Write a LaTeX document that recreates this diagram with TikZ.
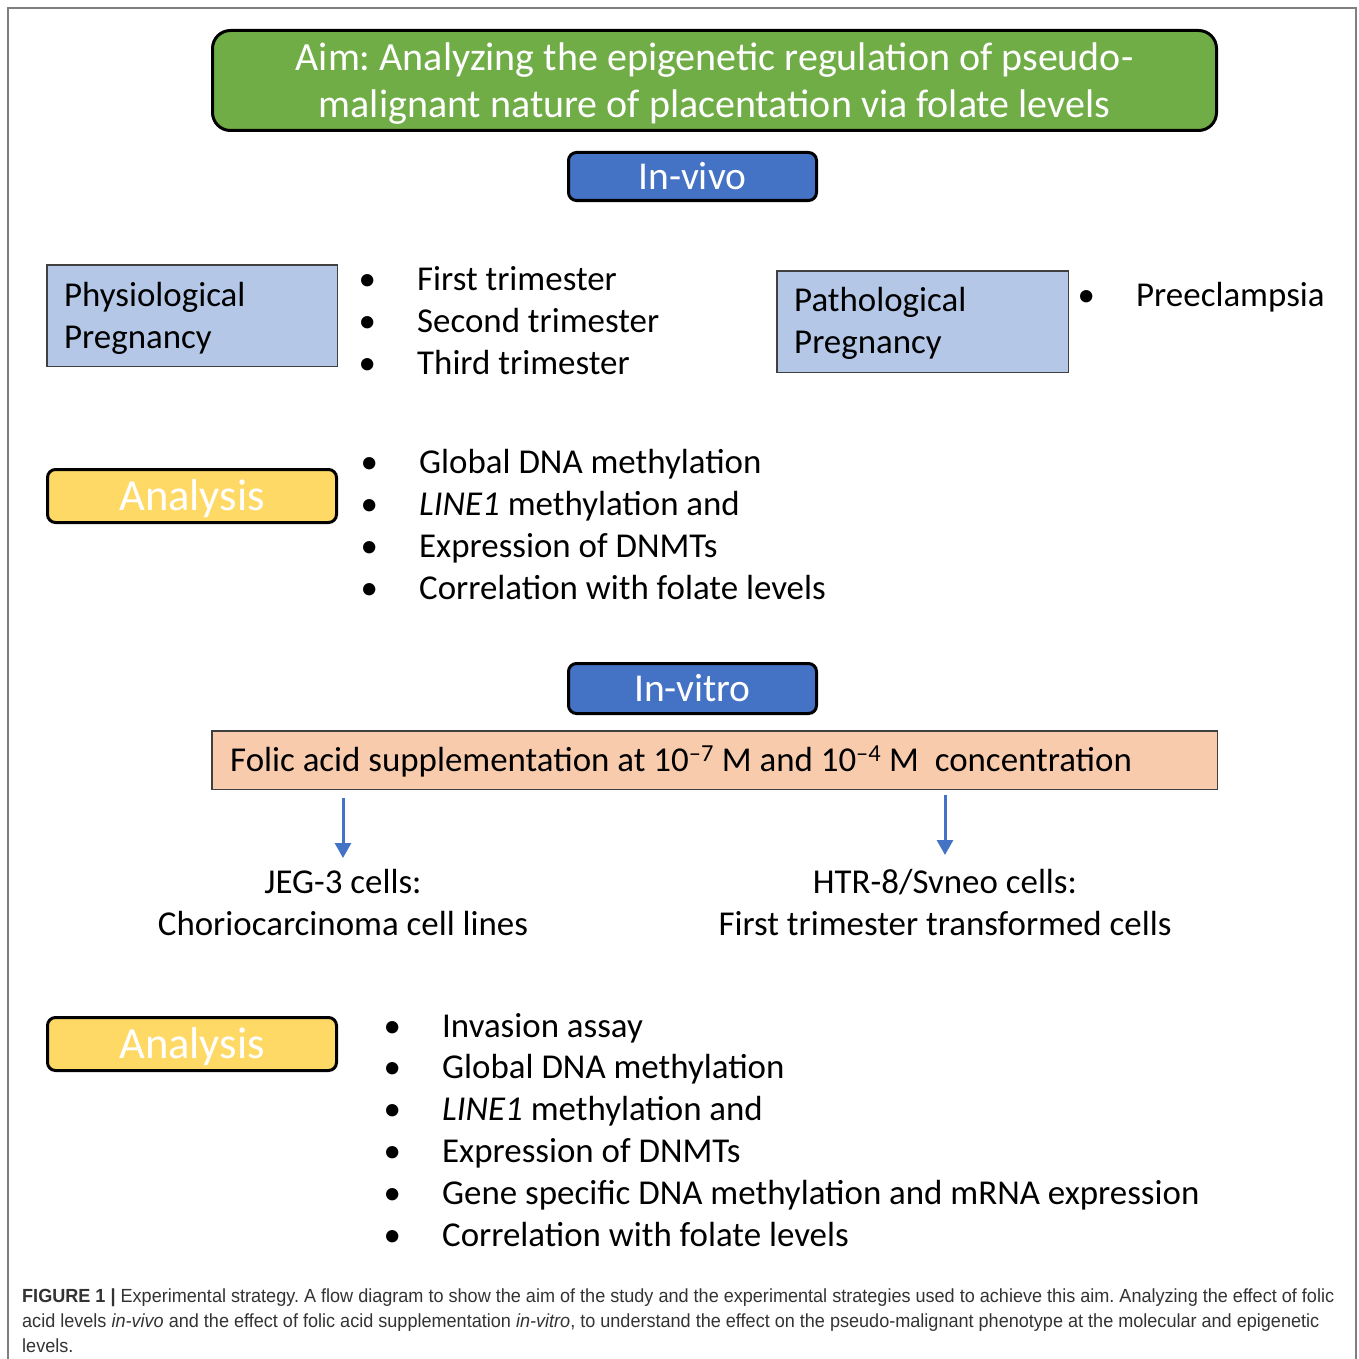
\documentclass[tikz,border=0pt]{standalone}
\usepackage{fontspec}
\setmainfont{Carlito}
\newfontfamily\capfont[FakeStretch=0.951]{Liberation Sans}
\usetikzlibrary{arrows.meta}
\definecolor{aimgreen}{HTML}{70AD47}
\definecolor{hdrblue}{HTML}{4472C4}
\definecolor{lightblue}{HTML}{B4C7E7}
\definecolor{anayellow}{HTML}{FFD966}
\definecolor{peach}{HTML}{F8CBAD}
\definecolor{framegray}{HTML}{7F7F7F}
\definecolor{captext}{HTML}{333333}
\newcommand\bulitem{\llap{\makebox[0pt][c]{•}\hspace{50pt}}}
\frenchspacing
\begin{document}
\begin{tikzpicture}[x=1pt,y=-1pt,
  darkbox/.style={draw=black, line width=3pt, rounded corners=8pt, inner sep=0pt},
  lightbox/.style={draw=black!75, line width=1.5pt, inner sep=0pt},
  body/.style={anchor=base west, inner sep=0pt, font=\fontsize{34.9}{42}\selectfont},
  bodyc/.style={anchor=base, inner sep=0pt, font=\fontsize{34.9}{42}\selectfont},
  titletxt/.style={anchor=base, inner sep=0pt, text=white, font=\fontsize{40}{47}\selectfont},
  hdrtxt/.style={text=white, font=\fontsize{39.5}{47}\selectfont},
  anatxt/.style={text=white, font=\fontsize{44.5}{52}\selectfont},
  arr/.style={draw=hdrblue, line width=3pt, -{Triangle[width=16pt,length=15pt]}},
  captxt/.style={anchor=base west, inner sep=0pt, text=captext, font=\capfont\fontsize{19}{25}\selectfont},
]
\useasboundingbox (0,0) rectangle (1358,1359);
\fill[white] (0,0) rectangle (1358,1359);
\draw[framegray, line width=1.5pt] (8,1359) |- (1356,8) -- (1356,1359);

% Aim
\node[darkbox, fill=aimgreen, rounded corners=18pt, minimum width=1004pt, minimum height=100pt] (aim) at (714.5,80.5) {};
\node[titletxt] (aim1) at (714.5,71) {Aim: Analyzing the epigenetic regulation of pseudo-};
\node[titletxt] (aim2) at (714.5,118) {malignant nature of placentation via folate levels};

% In-vivo
\node[darkbox, fill=hdrblue, minimum width=248pt, minimum height=48pt, hdrtxt] (vivo) at (692.5,176.5) {In-vivo};

% Physiological
\node[lightbox, fill=lightblue, minimum width=290.5pt, minimum height=101.5pt] (phys) at (192,315.5) {};
\node[body] (physA) at (64,306) {Physiological};
\node[body] (physB) at (64,348) {Pregnancy};
\foreach \t [count=\i] in {First trimester, Second trimester, Third trimester}
  \node[body] (tri\i) at (417, 248+42*\i) {\bulitem\t};

% Pathological
\node[lightbox, fill=lightblue, minimum width=291.5pt, minimum height=101.5pt] (path) at (922.5,321.5) {};
\node[body] (pathA) at (794,311) {Pathological};
\node[body] (pathB) at (794,353) {Pregnancy};
\node[body] (pre) at (1136,306) {\bulitem Preeclampsia};

% Analysis 1
\node[darkbox, fill=anayellow, minimum width=289pt, minimum height=53pt, anatxt] (ana1) at (192,496) {\raisebox{-3pt}[\height][\depth]{Analysis}};
\foreach \t [count=\i] in {Global DNA methylation, {\textit{LINE1} methylation and}, Expression of DNMTs, Correlation with folate levels}
  \node[body] (aa\i) at (419, 431+42*\i) {\bulitem\t};

% In-vitro
\node[darkbox, fill=hdrblue, minimum width=248pt, minimum height=50pt, hdrtxt] (vitro) at (692.5,688.5) {In-vitro};

% Folic acid
\node[lightbox, fill=peach, minimum width=1005.5pt, minimum height=58.5pt] (folic) at (714.5,760) {};
\node[body] (folictxt) at (230,771) {Folic acid supplementation at 10\textsuperscript{–7} M and 10\textsuperscript{–4} M\ \ concentration};

% Cell lines
\coordinate (tip1) at (343,858);
\coordinate (tip2) at (945,855);
\node[bodyc] (jeg1) at (343,893) {JEG-3 cells:};
\node[bodyc] (jeg2) at (343,935) {Choriocarcinoma cell lines};
\node[bodyc] (htr1) at (945,893) {HTR-8/Svneo cells:};
\node[bodyc] (htr2) at (945,935) {First trimester transformed cells};
\draw[arr, shorten <=8pt] (folic.south -| tip1) -- (tip1);
\draw[arr, shorten <=5pt] (folic.south -| tip2) -- (tip2);

% Analysis 2
\node[darkbox, fill=anayellow, minimum width=289pt, minimum height=53pt, anatxt] (ana2) at (192,1044) {\raisebox{-3pt}[\height][\depth]{Analysis}};
\foreach \t [count=\i] in {Invasion assay, Global DNA methylation, {\textit{LINE1} methylation and}, Expression of DNMTs, Gene specific DNA methylation and mRNA expression, Correlation with folate levels}
  \node[body] (ab\i) at (442, 995.2+41.8*\i) {\bulitem\t};

% Caption
\node[captxt] (cap1) at (22,1302) {\textbf{FIGURE 1 |} Experimental strategy. A flow diagram to show the aim of the study and the experimental strategies used to achieve this aim. Analyzing the effect of folic};
\node[captxt] (cap2) at (22,1327) {acid levels \textit{in-vivo} and the effect of folic acid supplementation \textit{in-vitro}, to understand the effect on the pseudo-malignant phenotype at the molecular and epigenetic};
\node[captxt] (cap3) at (22,1352) {levels.};
\end{tikzpicture}
\end{document}
